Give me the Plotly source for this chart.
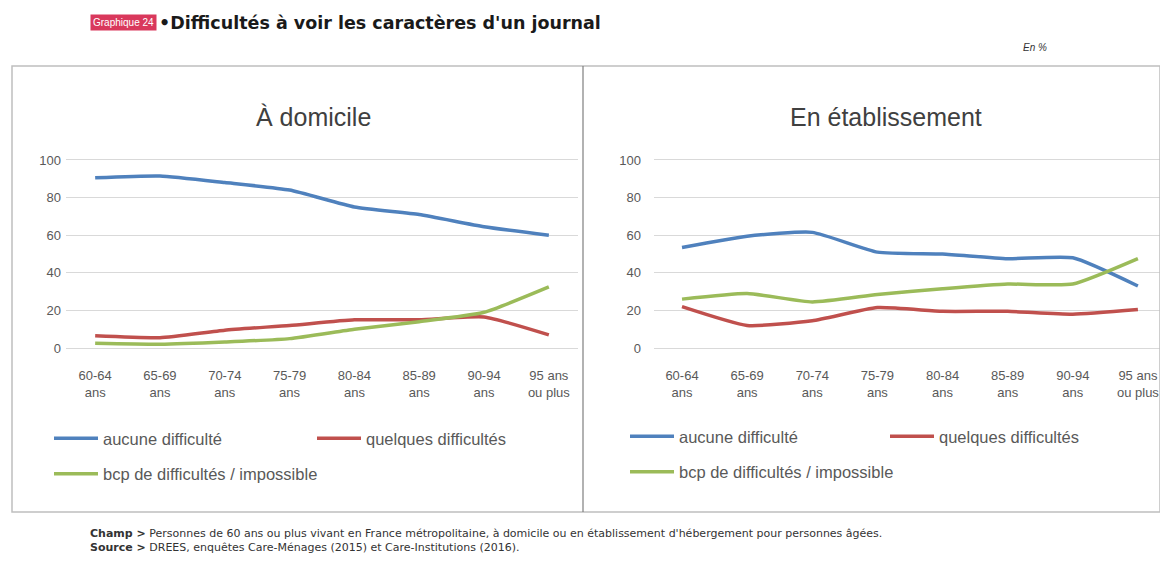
import plotly.graph_objects as go

W, H = 1168, 561
OFF = 8  # default body margin of the page
def px(x): return (x - OFF) / W
def py(y): return 1 - (y - OFF) / H

categories = ["60-64<br>ans", "65-69<br>ans", "70-74<br>ans", "75-79<br>ans",
              "80-84<br>ans", "85-89<br>ans", "90-94<br>ans", "95 ans<br>ou plus"]
series_names = ["aucune difficulté", "quelques difficultés", "bcp de difficultés / impossible"]
colors = ["#4F81BD", "#C0504D", "#9BBB59"]

domicile_aucune = [90.5, 91.5, 88, 84, 75, 71, 64.5, 60]
domicile_quelques = [6.5, 5.5, 9.5, 12, 15, 15, 16.5, 7]
domicile_bcp = [2.5, 2, 3.2, 5, 10, 14, 19, 32.5]

etab_aucune = [53.5, 59.5, 61.5, 51, 50, 47.5, 48, 33]
etab_quelques = [22, 12, 14.5, 21.5, 19.5, 19.5, 18, 20.5]
etab_bcp = [26, 29, 24.5, 28.5, 31.5, 34, 34, 47.5]

FONT = "Liberation Sans"
GRAY = "#595959"

fig = go.Figure()

left = [domicile_aucune, domicile_quelques, domicile_bcp]
right = [etab_aucune, etab_quelques, etab_bcp]
left_leg = ["legend", "legend2", "legend"]
right_leg = ["legend3", "legend4", "legend3"]

for i, vals in enumerate(left):
    fig.add_trace(go.Scatter(x=categories, y=vals, mode="lines", name=series_names[i],
                             line=dict(color=colors[i], width=3.5, shape="spline", smoothing=0.5),
                             xaxis="x", yaxis="y", legend=left_leg[i], legendgroup="l%d" % i,
                             hoverinfo="skip"))
for i, vals in enumerate(right):
    fig.add_trace(go.Scatter(x=categories, y=vals, mode="lines", name=series_names[i],
                             line=dict(color=colors[i], width=3.5, shape="spline", smoothing=0.5),
                             xaxis="x2", yaxis="y2", legend=right_leg[i], legendgroup="r%d" % i,
                             hoverinfo="skip"))

ydom = [py(349.9), py(158.1)]
axis_font = dict(family=FONT, size=13, color=GRAY)
common_x = dict(type="category", showgrid=False, showline=False, zeroline=False,
                tickfont=axis_font, ticks="", ticklabelstandoff=16, fixedrange=True)
common_y = dict(range=[-1, 101], tickvals=[0, 20, 40, 60, 80, 100], showgrid=True,
                gridcolor="#D9D9D9", gridwidth=1, zeroline=False, showline=False,
                tickfont=axis_font, ticks="", fixedrange=True)

legend_common = dict(orientation="v", xanchor="left", yanchor="top",
                     font=dict(family=FONT, size=16.5, color=GRAY),
                     bgcolor="rgba(0,0,0,0)", borderwidth=0, tracegroupgap=11,
                     itemwidth=44)

fig.update_layout(
    width=W, height=H,
    margin=dict(l=0, r=0, t=0, b=0, autoexpand=False),
    paper_bgcolor="white", plot_bgcolor="white",
    showlegend=True,
    xaxis=dict(domain=[px(66), px(578)], range=[-0.45, 7.45], anchor="y", **common_x),
    yaxis=dict(domain=ydom, anchor="x", ticklabelstandoff=4, **common_y),
    xaxis2=dict(domain=[px(654), px(1162)], range=[-0.43, 7.37], anchor="y2", **common_x),
    yaxis2=dict(domain=ydom, anchor="x2", ticklabelstandoff=12, **common_y),
    legend=dict(x=px(49), y=py(421), **legend_common),
    legend2=dict(x=px(312), y=py(421), **legend_common),
    legend3=dict(x=px(625), y=py(419), **legend_common),
    legend4=dict(x=px(885), y=py(419), **legend_common),
)

shapes = [
    dict(type="rect", xref="paper", yref="paper", x0=px(12), x1=px(1160), y0=py(512), y1=py(66),
         line=dict(color="#BFBFBF", width=1.5), fillcolor="rgba(0,0,0,0)"),
    dict(type="line", xref="paper", yref="paper", x0=px(583), x1=px(583), y0=py(512), y1=py(66),
         line=dict(color="#7F7F7F", width=1.2)),
]
fig.update_layout(shapes=shapes)

annotations = [
    dict(text="Graphique 24", x=px(90), y=py(23), xref="paper", yref="paper", xanchor="left",
         yanchor="middle", showarrow=False, bgcolor="#D9385C",
         font=dict(family=FONT, size=10, color="white"), borderpad=2),
    dict(text="<b> •Difficultés à voir les caractères d'un journal</b>", x=px(151), y=py(23),
         xref="paper", yref="paper", xanchor="left", yanchor="middle", showarrow=False,
         font=dict(family="DejaVu Sans", size=17.5, color="#1a1a1a")),
    dict(text="<i>En %</i>", x=px(1035), y=py(47), xref="paper", yref="paper", xanchor="center",
         yanchor="middle", showarrow=False, font=dict(family=FONT, size=10, color="#333333")),
    dict(text="À domicile", x=px(313), y=py(117), xref="paper", yref="paper", xanchor="center",
         yanchor="middle", showarrow=False, font=dict(family=FONT, size=25, color="#404040")),
    dict(text="En établissement", x=px(886), y=py(117), xref="paper", yref="paper", xanchor="center",
         yanchor="middle", showarrow=False, font=dict(family=FONT, size=25, color="#404040")),
    dict(text="<b>Champ ></b> Personnes de 60 ans ou plus vivant en France métropolitaine, à domicile ou en établissement d'hébergement pour personnes âgées.",
         x=px(88), y=py(533), xref="paper", yref="paper", xanchor="left", yanchor="middle",
         showarrow=False, font=dict(family="DejaVu Sans", size=11, color="#333333")),
    dict(text="<b>Source ></b> DREES, enquêtes Care-Ménages (2015) et Care-Institutions (2016).",
         x=px(88), y=py(547), xref="paper", yref="paper", xanchor="left", yanchor="middle",
         showarrow=False, font=dict(family="DejaVu Sans", size=11, color="#333333")),
]
fig.update_layout(annotations=annotations)

fig.write_html("out.html")
